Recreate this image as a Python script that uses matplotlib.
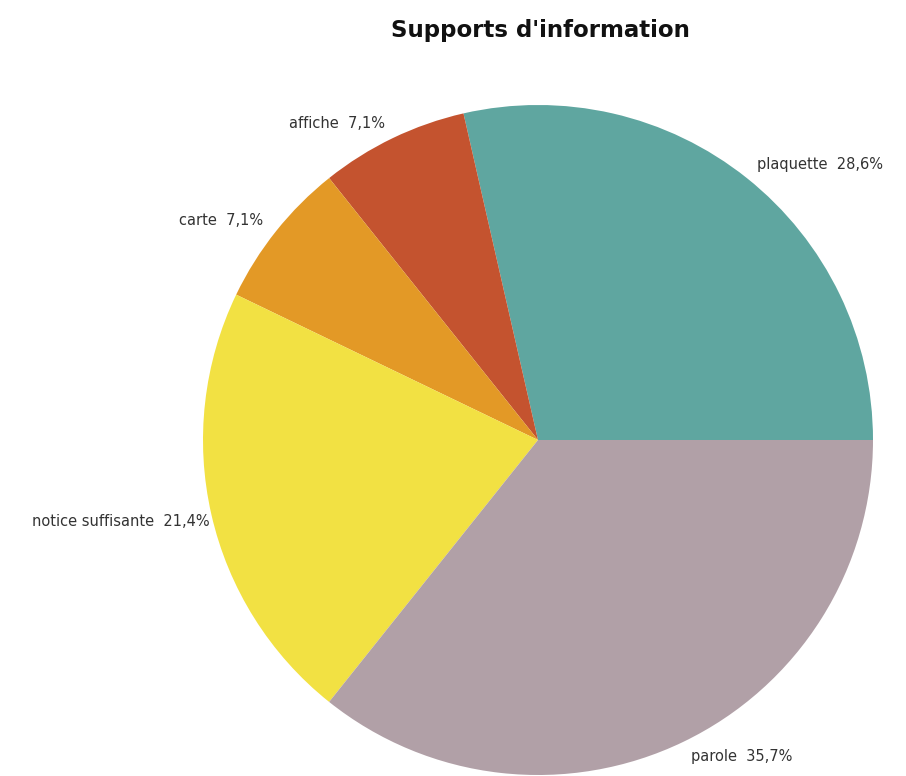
import numpy as np
import matplotlib.pyplot as plt

# slice counts and labels, drawn counterclockwise from 3 o'clock
categories = ["plaquette", "affiche", "carte", "notice suffisante", "parole"]
counts = [4, 1, 1, 3, 5]
colours = ["#5FA6A0", "#C4532F", "#E39926", "#F2E143", "#B1A0A7"]

total = sum(counts)
labels = ["%s  %s%%" % (name, ("%.1f" % (100.0 * c / total)).replace(".", ","))
          for name, c in zip(categories, counts)]

W, H = 906, 776
cx, cy, r = 538, 336, 335  # pie centre / radius in pixels (from bottom-left)

fig = plt.figure(figsize=(W / 100, H / 100), dpi=100)
ax = fig.add_axes([0, 0, 1, 1])

wedges, texts = ax.pie(counts, labels=labels, colors=colours, startangle=0,
                       counterclock=True, labeldistance=1.05,
                       wedgeprops=dict(linewidth=0),
                       textprops=dict(fontsize=10.5, color="#333333"))

# the long label on the left sits a little closer to its wedge
w = wedges[3]
mid = np.deg2rad((w.theta1 + w.theta2) / 2)
texts[3].set_position((1.005 * np.cos(mid), 1.005 * np.sin(mid) - 0.02))

ax.set_xlim(-cx / r, (W - cx) / r)
ax.set_ylim(-cy / r, (H - cy) / r)
ax.set_aspect("equal")
ax.axis("off")

fig.text(540, H - 30, "Supports d'information", transform=None,
         ha="center", va="center", fontsize=16.5, fontweight="bold", color="#111111")

fig.savefig("out.png", dpi=100)
